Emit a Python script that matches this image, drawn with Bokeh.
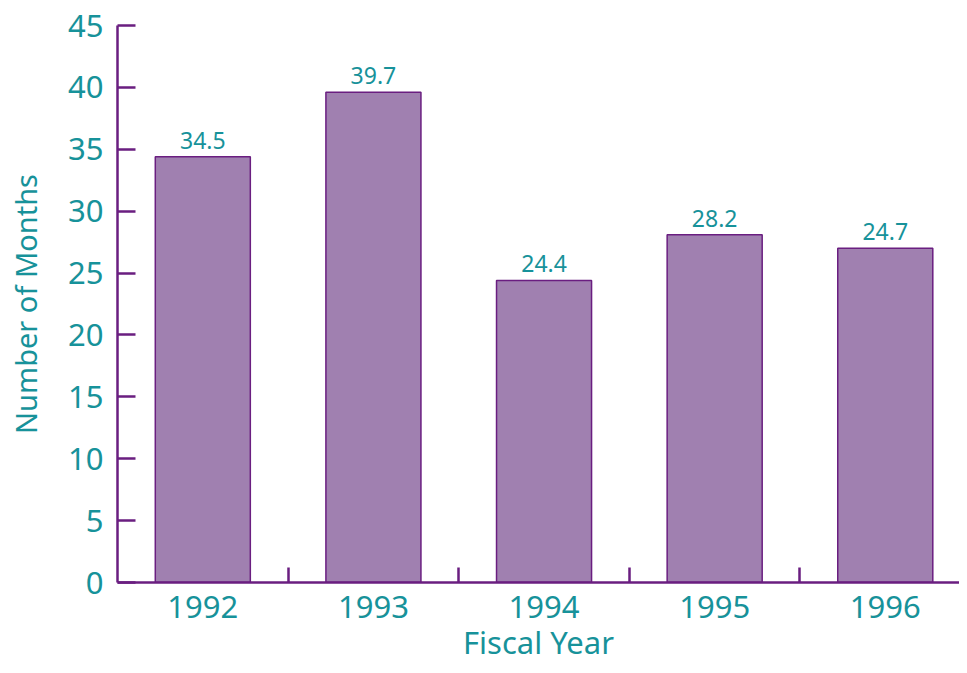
from bokeh.plotting import figure
from bokeh.models import Range1d, FixedTicker, ColumnDataSource
from bokeh.core.properties import value
from bokeh.embed import file_html
from bokeh.resources import INLINE

years = ["1992", "1993", "1994", "1995", "1996"]
months = [34.4, 39.6, 24.4, 28.1, 27.0]
value_labels = ["34.5", "39.7", "24.4", "28.2", "24.7"]
y_ticks = [0, 5, 10, 15, 20, 25, 30, 35, 40, 45]

xpos = [i + 0.5 for i in range(len(years))]
src = ColumnDataSource(dict(x=xpos, top=months, lab=value_labels))

TEAL = "#17929A"
PURPLE = "#6A1E80"
FILL = "#A080B0"
FONT = "Noto Sans"

p = figure(width=959, height=665, output_backend="svg", toolbar_location=None,
           x_range=Range1d(0, 4.935), y_range=Range1d(0, 45),
           min_border_left=117, min_border_right=0, min_border_top=25, min_border_bottom=10)
p.outline_line_color = None
p.xgrid.visible = False
p.ygrid.visible = False
p.background_fill_color = "white"
p.border_fill_color = "white"

p.vbar(x="x", top="top", width=0.557, bottom=0, source=src,
       fill_color=FILL, line_color=PURPLE, line_width=1.5)
p.text(x="x", y="top", text="lab", source=src, text_align="center",
       text_baseline="bottom", y_offset=-8, text_color=TEAL,
       text_font=value(FONT), text_font_size="23px")

# y axis
ya = p.yaxis[0]
ya.ticker = FixedTicker(ticks=y_ticks)
ya.axis_line_color = PURPLE
ya.axis_line_width = 2.5
ya.major_tick_line_color = PURPLE
ya.major_tick_line_width = 2.5
ya.major_tick_in = 18
ya.major_tick_out = 0
ya.minor_tick_line_color = None
ya.major_label_text_color = TEAL
ya.major_label_text_font = FONT
ya.major_label_text_font_size = "31px"
ya.major_label_standoff = 14
ya.axis_label = "Number of Months"
ya.axis_label_text_color = TEAL
ya.axis_label_text_font = FONT
ya.axis_label_text_font_size = "29px"
ya.axis_label_text_font_style = "normal"
ya.axis_label_standoff = 20

# x axis
xa = p.xaxis[0]
xa.ticker = FixedTicker(ticks=xpos, minor_ticks=[1, 2, 3, 4])
xa.major_label_overrides = {x: y for x, y in zip(xpos, years)}
xa.axis_line_color = PURPLE
xa.axis_line_width = 2.5
xa.major_tick_line_color = None
xa.minor_tick_line_color = PURPLE
xa.minor_tick_line_width = 2.5
xa.minor_tick_in = 15
xa.minor_tick_out = 0
xa.major_label_text_color = TEAL
xa.major_label_text_font = FONT
xa.major_label_text_font_size = "31px"
xa.major_label_standoff = 7
xa.axis_label = "Fiscal Year"
xa.axis_label_text_color = TEAL
xa.axis_label_text_font = FONT
xa.axis_label_text_font_size = "31px"
xa.axis_label_text_font_style = "normal"
xa.axis_label_standoff = 0

open("out.html", "w").write(file_html(p, INLINE))
